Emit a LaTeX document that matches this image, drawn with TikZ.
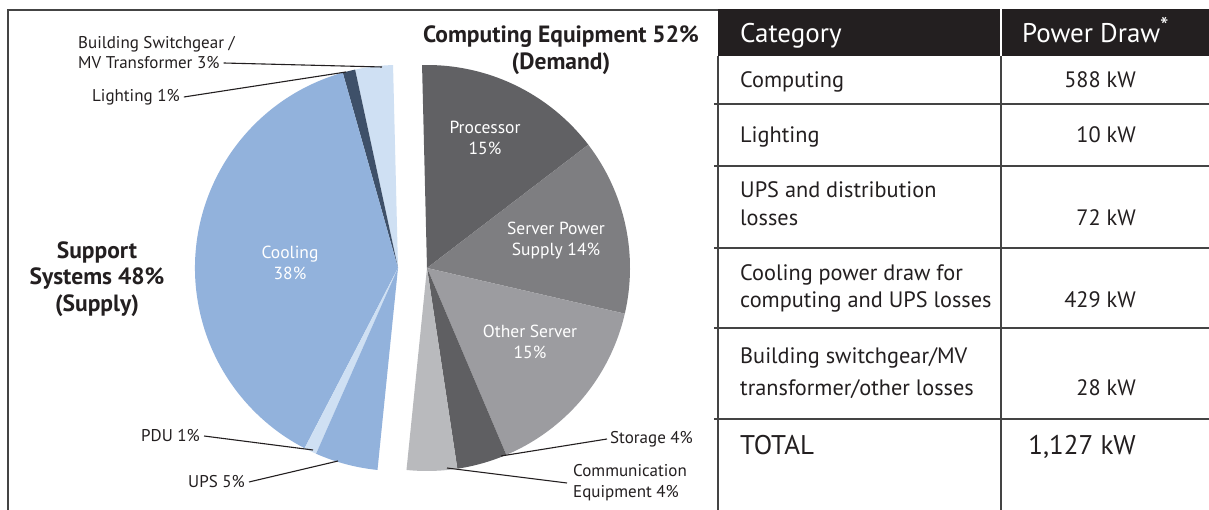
\documentclass[tikz,border=0pt]{standalone}
\usepackage{fontspec}
\setmainfont{PT Sans}
\definecolor{txt}{HTML}{231F20}
\definecolor{proc}{HTML}{616164}
\definecolor{sps}{HTML}{7E7E81}
\definecolor{oth}{HTML}{9C9CA0}
\definecolor{stor}{HTML}{5F5F62}
\definecolor{comm}{HTML}{B9BABD}
\definecolor{swg}{HTML}{CFE0F3}
\definecolor{lgt}{HTML}{3E5069}
\definecolor{cool}{HTML}{92B2DC}
\definecolor{rulec}{HTML}{444444}
\begin{document}
\begin{tikzpicture}[x=1pt,y=-1pt,
  lbl/.style={font=\fontsize{17}{21}\selectfont, text=txt, inner sep=0pt, align=left},
  inlbl/.style={font=\fontsize{17.5}{21}\selectfont, text=white, align=center, inner sep=0pt},
  big/.style={font=\bfseries\fontsize{23.5}{26.5}\selectfont, align=center, text=txt, inner sep=0pt},
  leader/.style={draw=txt, line width=1.1pt},
  cell/.style={font=\fontsize{22.3}{27}\selectfont, anchor=base west, inner sep=0pt, text=txt},
  val/.style={font=\fontsize{22.3}{27}\selectfont, anchor=base east, inner sep=0pt, text=txt},
  hdr/.style={font=\fontsize{27}{30}\selectfont, anchor=base west, inner sep=0pt, text=white},
  tot/.style={font=\fontsize{27}{30}\selectfont, inner sep=0pt, text=txt},
  rule/.style={line width=1.3pt, draw=rulec}]
\useasboundingbox (0,0) rectangle (1209,510);
\fill[white] (0,0) rectangle (1209,510);
% frame
\draw[rule] (8,510) -- (8,10) -- (718,10);
% ---------- pie: support systems (blue) ----------
\begin{scope}[shift={(398,268)}, yscale=-1]
  \fill[swg]  (0,0) -- (91.4:203) arc[start angle=91.4, end angle=102.2, radius=203] -- cycle;
  \fill[lgt]  (0,0) -- (102.2:203) arc[start angle=102.2, end angle=105.8, radius=203] -- cycle;
  \fill[cool] (0,0) -- (105.8:203) arc[start angle=105.8, end angle=242.6, radius=203] -- cycle;
  \fill[swg]  (0,0) -- (242.6:203) arc[start angle=242.6, end angle=246.2, radius=203] -- cycle;
  \fill[cool] (0,0) -- (246.2:203) arc[start angle=246.2, end angle=264.2, radius=203] -- cycle;
\end{scope}
% ---------- pie: computing equipment (gray) ----------
\begin{scope}[shift={(427,268)}, yscale=-1]
  \fill[proc] (0,0) -- (91.4:203) arc[start angle=91.4, end angle=37.4, radius=203] -- cycle;
  \fill[sps]  (0,0) -- (37.4:203) arc[start angle=37.4, end angle=-13.0, radius=203] -- cycle;
  \fill[oth]  (0,0) -- (-13.0:203) arc[start angle=-13.0, end angle=-67.0, radius=203] -- cycle;
  \fill[stor] (0,0) -- (-67.0:203) arc[start angle=-67.0, end angle=-81.4, radius=203] -- cycle;
  \fill[comm] (0,0) -- (-81.4:203) arc[start angle=-81.4, end angle=-95.8, radius=203] -- cycle;
\end{scope}
% inside labels
\node[inlbl] (procl) at (485,138) {Processor\\15\%};
\node[inlbl] (spsl) at (556,241) {Server Power\\Supply 14\%};
\node[inlbl] (othl) at (530,342) {Other Server\\15\%};
\node[inlbl] (cooll) at (290,263) {Cooling\\38\%};
% headings
\node[big] (comph) at (561,50) {Computing Equipment 52\%\\(Demand)};
\node[big] (supph) at (97,279) {Support\\Systems 48\%\\(Supply)};
% leader labels
\node[lbl, anchor=west] (sw1) at (78,44) {Building Switchgear /};
\node[lbl, anchor=west] (sw2) at (78,63) {MV Transformer 3\%};
\node[lbl, anchor=west] (lgtl) at (92,97) {Lighting 1\%};
\node[lbl, anchor=west] (pdul) at (141,436) {PDU 1\%};
\node[lbl, anchor=west] (upsl) at (188,482) {UPS 5\%};
\node[lbl, anchor=west] (storl) at (610,439) {Storage 4\%};
\node[lbl, anchor=west] (comml) at (573,483) {Communication\\Equipment 4\%};
\coordinate (swp) at (382,67);
\coordinate (lgtp) at (346,72);
\coordinate (pdup) at (313,450);
\coordinate (upsp) at (338,461);
\coordinate (storp) at (501,456);
\coordinate (commp) at (447,468);
\draw[leader] ([xshift=4pt]sw2.east) -- (swp);
\draw[leader] ([xshift=4pt]lgtl.east) -- (lgtp);
\draw[leader] ([xshift=4pt]pdul.east) -- (pdup);
\draw[leader] ([xshift=4pt]upsl.east) -- (upsp);
\draw[leader] ([xshift=-3pt]storl.west) -- (storp);
\draw[leader] ([xshift=-6pt]comml.west) -- (commp);
% ---------- table ----------
\fill[txt] (718,9) rectangle (1209,56);
\draw[white, line width=1.5pt] (1001,9) -- (1001,56);
\draw[rule] (718,56) -- (718,510);
\draw[rule] (1001,56) -- (1001,510);
\foreach \yy in {104,166,248,328,419} \draw[rule] (714,\yy) -- (1209,\yy);
\node[hdr] (hcat) at (740,43) {Category};
\node[hdr] (hpow) at (1022,43) {Power Draw\raisebox{0.3em}{\fontsize{24}{24}\selectfont *}};
\node[cell] (c1) at (740,88) {Computing};
\node[val] (v1) at (1136,88) {588 kW};
\node[cell] (c2) at (740,143) {Lighting};
\node[val] (v2) at (1136,143) {10 kW};
\node[cell] (c3a) at (740,198) {UPS and distribution};
\node[cell] (c3b) at (740,226) {losses};
\node[val] (v3) at (1136,226) {72 kW};
\node[cell] (c4a) at (740,281) {Cooling power draw for};
\node[cell] (c4b) at (740,308) {computing and UPS losses};
\node[val] (v4) at (1136,308) {429 kW};
\node[cell] (c5a) at (740,363) {Building switchgear/MV};
\node[cell] (c5b) at (740,395) {transformer/other losses};
\node[val] (v5) at (1136,395) {28 kW};
\node[tot, anchor=base west] (c6) at (740,454) {TOTAL};
\node[tot, anchor=base east] (v6) at (1136,454) {1,127 kW};
\end{tikzpicture}
\end{document}
